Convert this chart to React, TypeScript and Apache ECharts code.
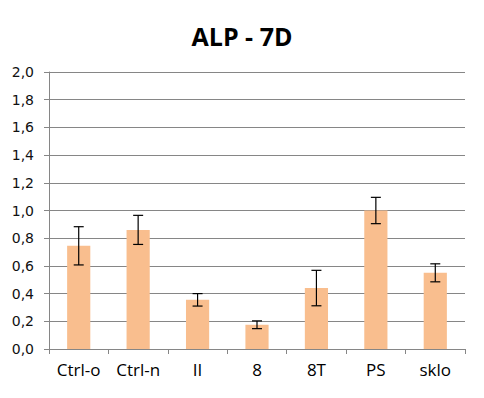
import React, { useEffect, useRef } from "react";
import * as echarts from "echarts";

const categories = ["Ctrl-o", "Ctrl-n", "II", "8", "8T", "PS", "sklo"];
const values = [0.745, 0.86, 0.355, 0.175, 0.44, 1.0, 0.55];
const errors = [0.138, 0.105, 0.045, 0.028, 0.128, 0.095, 0.065];
const yTicks = { min: 0, max: 2, interval: 0.2 };
const titleText = "ALP - 7D";

export default function App() {
  const ref = useRef<HTMLDivElement>(null);
  useEffect(() => {
    const chart = echarts.init(ref.current!, null, { renderer: "svg" });
    const errData = values.map((v, i) => [i, v - errors[i], v + errors[i]]);
    chart.setOption({
      animation: false,
      backgroundColor: "#ffffff",
      title: {
        text: titleText,
        left: "center",
        top: 18,
        textStyle: { fontFamily: "Open Sans", fontWeight: "bold", fontSize: 25, color: "#000" },
      },
      grid: { left: 49, right: 19, top: 72, bottom: 49, containLabel: false },
      xAxis: {
        type: "category",
        data: categories,
        boundaryGap: true,
        axisLine: { lineStyle: { color: "#868686", width: 1 } },
        axisTick: { show: true, length: 5, lineStyle: { color: "#868686" } },
        axisLabel: { fontFamily: "Open Sans", fontSize: 17, color: "#000", margin: 12 },
      },
      yAxis: {
        type: "value",
        min: yTicks.min,
        max: yTicks.max,
        interval: yTicks.interval,
        axisLine: { show: true, lineStyle: { color: "#868686", width: 1 } },
        axisTick: { show: true, length: 5, lineStyle: { color: "#868686" } },
        splitLine: { lineStyle: { color: "#868686", width: 1 } },
        axisLabel: {
          fontFamily: "DejaVu Sans",
          fontSize: 14,
          color: "#111",
          margin: 15,
          formatter: (v: number) => v.toFixed(1).replace(".", ","),
        },
      },
      series: [
        {
          type: "bar",
          data: values,
          barWidth: "39%",
          itemStyle: { color: "#F9BE8E" },
          silent: true,
        },
        {
          type: "custom",
          data: errData,
          silent: true,
          renderItem: (params: any, api: any) => {
            const x = api.value(0);
            const lo = api.coord([x, api.value(1)]);
            const hi = api.coord([x, api.value(2)]);
            const hw = 5;
            const style = { stroke: "#000", lineWidth: 1.2 };
            return {
              type: "group",
              children: [
                { type: "line", shape: { x1: hi[0], y1: hi[1], x2: lo[0], y2: lo[1] }, style },
                { type: "line", shape: { x1: hi[0] - hw, y1: hi[1], x2: hi[0] + hw, y2: hi[1] }, style },
                { type: "line", shape: { x1: lo[0] - hw, y1: lo[1], x2: lo[0] + hw, y2: lo[1] }, style },
              ],
            };
          },
          z: 10,
        },
      ],
    });
    return () => chart.dispose();
  }, []);
  return <div ref={ref} style={{ width: 484, height: 398, position: "absolute", left: 0, top: 0 }} />;
}
